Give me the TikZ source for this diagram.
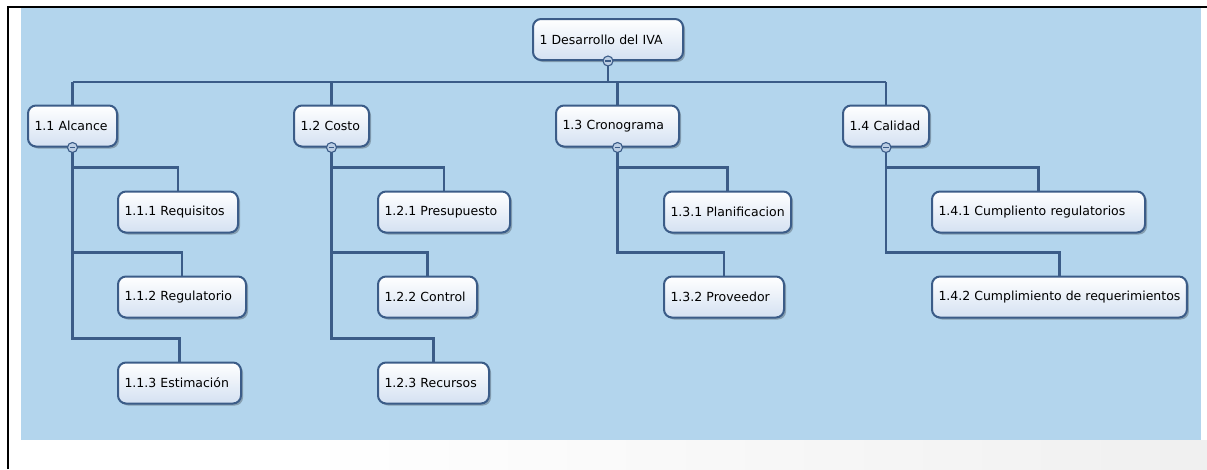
\documentclass[tikz,border=0pt]{standalone}
\usepackage{fontspec}
\setsansfont{DejaVu Sans}
\usetikzlibrary{positioning,shadows}
\definecolor{panelBlue}{RGB}{179,213,237}
\definecolor{lineBlue}{RGB}{59,92,136}
\definecolor{boxBottom}{RGB}{212,225,242}
\definecolor{btnFill}{RGB}{188,206,228}

\tikzset{
  wbs/.style={draw=lineBlue, line width=2pt, rounded corners=8pt,
    top color=white, bottom color=boxBottom, minimum height=41pt,
    inner xsep=6.5pt, anchor=west, font=\sffamily\fontsize{12.5}{15}\selectfont,
    drop shadow={shadow xshift=2pt, shadow yshift=-2pt, fill=black, opacity=0.25}},
  tw/.style={text width=#1pt, align=left},
  conn/.style={draw=lineBlue, line width=2.6pt},
  btn/.style={circle, draw=lineBlue, line width=1.1pt, fill=btnFill,
    minimum size=10pt, inner sep=0pt},
}

\begin{document}
\begin{tikzpicture}[x=1pt, y=-1pt]
  \useasboundingbox (0,0) rectangle (1207,469);
  % background
  \shade[left color=white, right color=black!6] (300,440) rectangle (1207,469);
  \fill[panelBlue] (21,8) rectangle (1201,440);
  \draw[line width=2.5pt] (8,469) -- (8,7) -- (1207,7);

  % root and first level
  \node[wbs, tw=137] (root) at (532,39.5) {1 Desarrollo del IVA};
  \node[wbs, tw=76] (a) at (27,126) {1.1 Alcance};
  \node[wbs, tw=62] (b) at (293,126) {1.2 Costo};
  \node[wbs, tw=110] (c) at (555,126) {1.3 Cronograma};
  \node[wbs, tw=73] (d) at (842,126) {1.4 Calidad};

  % second level
  \node[wbs, tw=107] (a1) at (117,212) {1.1.1 Requisitos};
  \node[wbs, tw=115] (a2) at (117,297) {1.1.2 Regulatorio};
  \node[wbs, tw=110] (a3) at (117,383) {1.1.3 Estimación};
  \node[wbs, tw=119] (b1) at (377,212) {1.2.1 Presupuesto};
  \node[wbs, tw=86] (b2) at (377,297) {1.2.2 Control};
  \node[wbs, tw=98] (b3) at (377,383) {1.2.3 Recursos};
  \node[wbs] (c1) at (663,212) {1.3.1 Planificacion};
  \node[wbs, tw=107] (c2) at (663,297) {1.3.2 Proveedor};
  \node[wbs, tw=200] (d1) at (931,212) {1.4.1 Cumpliento regulatorios};
  \node[wbs] (d2) at (931,297) {1.4.2 Cumplimiento de requerimientos};

  % connectors
  \coordinate (bar) at (0,82);
  \draw[conn] (root.south) -- (root.south |- bar);
  \draw[conn] (a.north |- bar) -- (d.north |- bar);
  \foreach \n in {a,b,c,d}
    \draw[conn] (\n.north) -- (\n.north |- bar);
  \foreach \p/\k in {a/a1,a/a2,a/a3,b/b1,b/b2,b/b3,c/c1,c/c2,d/d1,d/d2}
    \draw[conn] (\p.south) |- ([yshift=23pt]\k.north) -- (\k.north);

  % collapse buttons
  \foreach \n in {root,a,b,c,d} {
    \node[btn] (\n-btn) at (\n.south) {};
    \draw[lineBlue, line width=1.4pt] ([xshift=-2.8pt]\n-btn.center) -- ([xshift=2.8pt]\n-btn.center);
  }
\end{tikzpicture}
\end{document}
